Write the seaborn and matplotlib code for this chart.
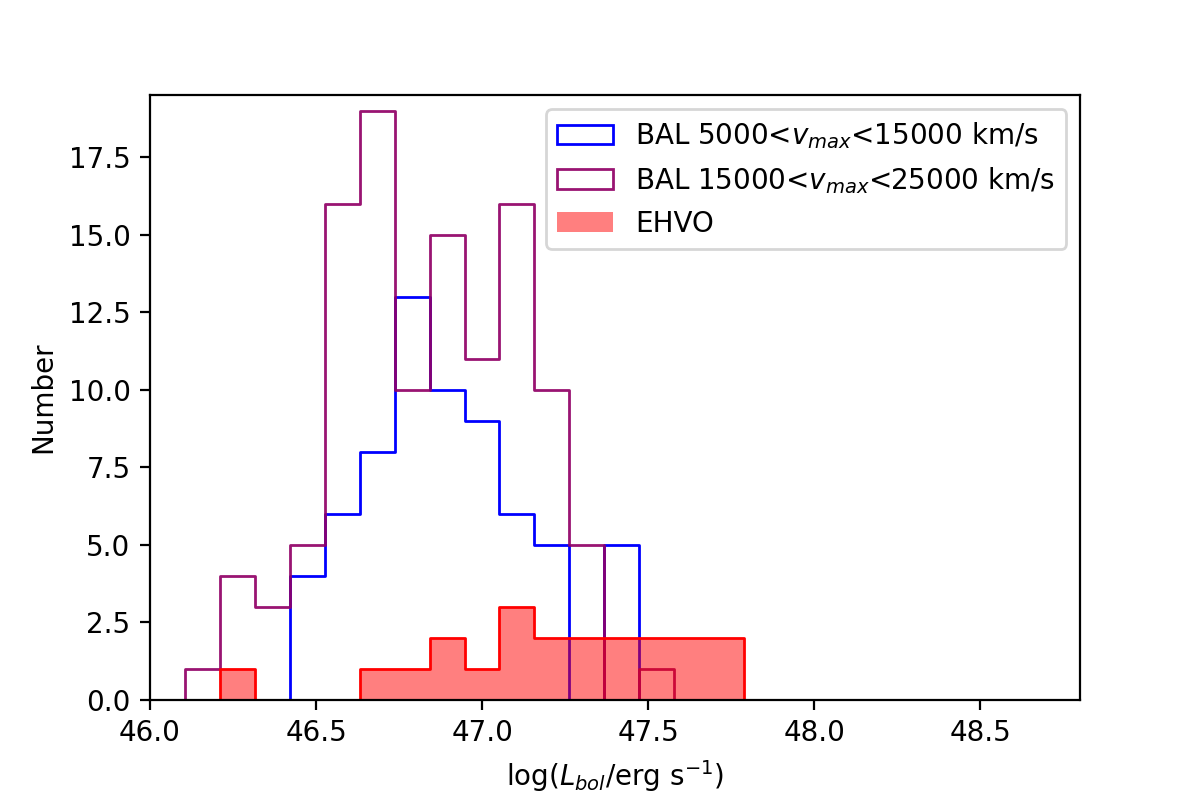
import numpy as np
import pandas as pd
import matplotlib
matplotlib.use("Agg")
import matplotlib.pyplot as plt
import seaborn as sns
from matplotlib.patches import Patch

# Bin edges (log Lbol)
bin_edges = [float(v) for v in np.linspace(46.105, 47.789, 17)]

# Counts per bin for each sample
bal_low = [0, 0, 0, 4, 6, 8, 13, 10, 9, 6, 5, 0, 5, 0, 0, 0]
bal_high = [1, 4, 3, 5, 16, 19, 10, 15, 11, 16, 10, 5, 0, 1, 0, 0]
ehvo = [0, 1, 0, 0, 0, 1, 1, 2, 1, 3, 2, 2, 2, 2, 2, 2]

labels = [r"BAL 5000<$v_{max}$<15000 km/s",
          r"BAL 15000<$v_{max}$<25000 km/s",
          "EHVO"]

edges = np.array(bin_edges)
centers = (edges[:-1] + edges[1:]) / 2
df = pd.DataFrame({"x": centers, "low": bal_low, "high": bal_high, "ehvo": ehvo})

purple = (0.57, 0.0, 0.40, 0.92)

fig, ax = plt.subplots(figsize=(6, 4), dpi=200)
fig.subplots_adjust(left=0.125, right=0.9, bottom=0.125, top=0.881)

sns.histplot(data=df, x="x", weights="low", bins=bin_edges, element="step",
             fill=True, color="blue", facecolor="none", edgecolor="blue",
             linewidth=1.0, ax=ax)
sns.histplot(data=df, x="x", weights="high", bins=bin_edges, element="step",
             fill=True, color="purple", facecolor="none", edgecolor=purple,
             linewidth=1.0, ax=ax)
sns.histplot(data=df, x="x", weights="ehvo", bins=bin_edges, element="step",
             fill=True, color="red", facecolor=(1, 0, 0, 0.5), edgecolor="red",
             linewidth=1.0, ax=ax)

ax.set_xlim(46.0, 48.8)
ax.set_ylim(0, 19.5)
ax.set_xlabel(r"log($L_{bol}$/erg s$^{-1}$)")
ax.set_ylabel("Number")

handles = [Patch(facecolor="none", edgecolor="blue", linewidth=1.0),
           Patch(facecolor="none", edgecolor=purple, linewidth=1.0),
           Patch(facecolor=(1, 0, 0, 0.5), edgecolor="none")]
ax.legend(handles, labels, loc="upper right")

fig.savefig("out.png", dpi=200)
